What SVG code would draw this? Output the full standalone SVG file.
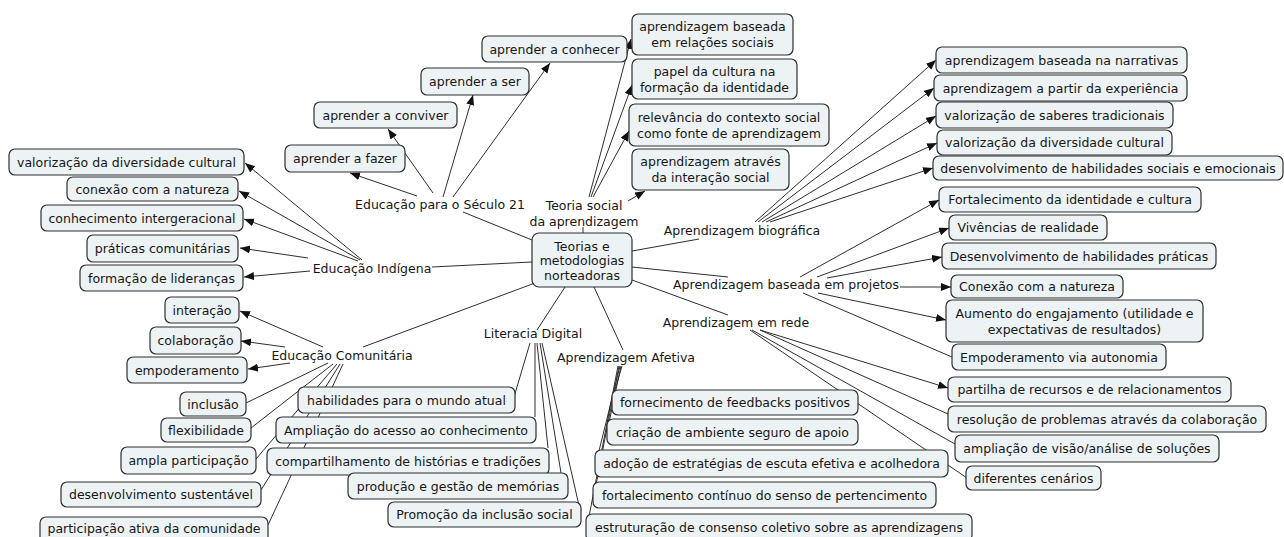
<svg xmlns="http://www.w3.org/2000/svg" width="1284" height="537" viewBox="0 0 1284 537">
<defs>
<style>
.bx{fill:#edf2f5;stroke:#2e2e2e;stroke-width:1.2}
text{font-family:"DejaVu Sans",Verdana,sans-serif;font-size:12.5px;fill:#161616;text-anchor:middle}
.cn line{stroke:#2e2e2e;stroke-width:1;fill:none}
.ar{marker-end:url(#ah)}
</style>
<marker id="ah" markerUnits="userSpaceOnUse" markerWidth="11" markerHeight="9" refX="10" refY="4" orient="auto">
<path d="M0,0 L10,4 L0,8 Z" fill="#111"/>
</marker>
</defs>
<rect width="1284" height="537" fill="#ffffff"/>
<g id="connectors" class="cn">
<line x1="532" y1="240" x2="463" y2="212"/>
<line x1="583" y1="233" x2="583" y2="227"/>
<line x1="532" y1="262" x2="432" y2="267"/>
<line x1="632" y1="251" x2="699" y2="239"/>
<line x1="632" y1="267" x2="728" y2="277"/>
<line x1="632" y1="280" x2="728" y2="315"/>
<line x1="535" y1="283" x2="363" y2="347"/>
<line x1="565" y1="287" x2="537" y2="330"/>
<line x1="594" y1="287" x2="623" y2="350"/>
<line class="ar" x1="417" y1="196" x2="350" y2="173"/>
<line class="ar" x1="433" y1="193" x2="388" y2="129"/>
<line class="ar" x1="443" y1="197" x2="473" y2="95"/>
<line class="ar" x1="453" y1="197" x2="550" y2="63"/>
<line class="ar" x1="589" y1="197" x2="631" y2="39"/>
<line class="ar" x1="591" y1="197" x2="632" y2="85"/>
<line class="ar" x1="593" y1="197" x2="629" y2="131"/>
<line class="ar" x1="628" y1="201" x2="645" y2="191"/>
<line class="ar" x1="362" y1="260" x2="245" y2="163"/>
<line class="ar" x1="360" y1="260" x2="239" y2="191"/>
<line class="ar" x1="358" y1="261" x2="244" y2="219"/>
<line class="ar" x1="308" y1="258" x2="240" y2="248"/>
<line class="ar" x1="310" y1="271" x2="244" y2="277"/>
<line class="ar" x1="755" y1="222" x2="936" y2="60"/>
<line class="ar" x1="758" y1="222" x2="934" y2="88"/>
<line class="ar" x1="762" y1="222" x2="936" y2="116"/>
<line class="ar" x1="766" y1="222" x2="937" y2="143"/>
<line class="ar" x1="770" y1="222" x2="933" y2="168"/>
<line class="ar" x1="800" y1="277" x2="939" y2="200"/>
<line class="ar" x1="817" y1="277" x2="949" y2="228"/>
<line class="ar" x1="827" y1="278" x2="942" y2="257"/>
<line class="ar" x1="900" y1="287" x2="951" y2="287"/>
<line class="ar" x1="818" y1="293" x2="946" y2="320"/>
<line x1="803" y1="293" x2="952" y2="357"/>
<line class="ar" x1="760" y1="330" x2="948" y2="388"/>
<line x1="760" y1="330" x2="948" y2="414"/>
<line x1="752" y1="330" x2="955" y2="444"/>
<line x1="750" y1="330" x2="967" y2="478"/>
<line class="ar" x1="323" y1="347" x2="240" y2="311"/>
<line class="ar" x1="285" y1="347" x2="241" y2="341"/>
<line class="ar" x1="290" y1="363" x2="248" y2="369"/>
<line x1="328" y1="363" x2="246" y2="403"/>
<line x1="333" y1="364" x2="251" y2="428"/>
<line x1="337" y1="364" x2="256" y2="459"/>
<line x1="340" y1="364" x2="261" y2="490"/>
<line x1="343" y1="364" x2="268" y2="525"/>
<line x1="530" y1="343" x2="514" y2="397"/>
<line x1="535" y1="343" x2="535" y2="417"/>
<line x1="537" y1="343" x2="548" y2="448"/>
<line x1="540" y1="343" x2="561" y2="473"/>
<line x1="542" y1="343" x2="580" y2="510"/>
<line x1="622" y1="366" x2="612" y2="400"/>
<line x1="621" y1="366" x2="607" y2="432"/>
<line x1="620" y1="366" x2="596" y2="463"/>
<line x1="619" y1="366" x2="594" y2="495"/>
<line x1="618" y1="366" x2="587" y2="527"/>
</g>
<g id="central"><rect class="bx" x="532" y="233" width="100" height="54" rx="7"/><text x="582" y="250.5">Teorias e</text><text x="582" y="265">metodologias</text><text x="582" y="279.5">norteadoras</text></g>
<g id="l-seculo21"><text x="440" y="208.5">Educação para o Século 21</text></g>
<g id="l-teoria"><text x="584" y="209.5">Teoria social</text><text x="584" y="225.5">da aprendizagem</text></g>
<g id="l-indigena"><text x="372" y="272.5">Educação Indígena</text></g>
<g id="l-biografica"><text x="742" y="234.5">Aprendizagem biográfica</text></g>
<g id="l-projetos"><text x="786" y="288.5">Aprendizagem baseada em projetos</text></g>
<g id="l-rede"><text x="736" y="326.5">Aprendizagem em rede</text></g>
<g id="l-literacia"><text x="533" y="337.5">Literacia Digital</text></g>
<g id="l-afetiva"><text x="626" y="361.5">Aprendizagem Afetiva</text></g>
<g id="l-comunitaria"><text x="342" y="359.5">Educação Comunitária</text></g>
<g id="n1"><rect class="bx" x="9" y="149" width="235" height="26" rx="6"/><text x="126.5" y="166.5">valorização da diversidade cultural</text></g>
<g id="n2"><rect class="bx" x="67" y="177" width="171" height="24" rx="6"/><text x="152.5" y="193.5">conexão com a natureza</text></g>
<g id="n3"><rect class="bx" x="41" y="205" width="202" height="26" rx="6"/><text x="142" y="222.5">conhecimento intergeracional</text></g>
<g id="n4"><rect class="bx" x="87" y="235" width="151" height="27" rx="6"/><text x="162.5" y="253">práticas comunitárias</text></g>
<g id="n5"><rect class="bx" x="80" y="265" width="163" height="26" rx="6"/><text x="161.5" y="282.5">formação de lideranças</text></g>
<g id="n6"><rect class="bx" x="285" y="145" width="120" height="27" rx="6"/><text x="345" y="163">aprender a fazer</text></g>
<g id="n7"><rect class="bx" x="314" y="102" width="143" height="26" rx="6"/><text x="385.5" y="119.5">aprender a conviver</text></g>
<g id="n8"><rect class="bx" x="421" y="68" width="108" height="27" rx="6"/><text x="475" y="86">aprender a ser</text></g>
<g id="n9"><rect class="bx" x="482" y="36" width="145" height="26" rx="6"/><text x="554.5" y="53.5">aprender a conhecer</text></g>
<g id="n10"><rect class="bx" x="632" y="14" width="161" height="41" rx="6"/><text x="712.5" y="31">aprendizagem baseada</text><text x="712.5" y="47">em relações sociais</text></g>
<g id="n11"><rect class="bx" x="632" y="59" width="165" height="40" rx="6"/><text x="714.5" y="75.5">papel da cultura na</text><text x="714.5" y="91.5">formação da identidade</text></g>
<g id="n12"><rect class="bx" x="629" y="104" width="200" height="42" rx="6"/><text x="729" y="121.5">relevância do contexto social</text><text x="729" y="137.5">como fonte de aprendizagem</text></g>
<g id="n13"><rect class="bx" x="632" y="149" width="157" height="41" rx="6"/><text x="710.5" y="166">aprendizagem através</text><text x="710.5" y="182">da interação social</text></g>
<g id="n14"><rect class="bx" x="936" y="47" width="251" height="26" rx="6"/><text x="1061.5" y="64.5">aprendizagem baseada na narrativas</text></g>
<g id="n15"><rect class="bx" x="934" y="75" width="253" height="26" rx="6"/><text x="1060.5" y="92.5">aprendizagem a partir da experiência</text></g>
<g id="n16"><rect class="bx" x="936" y="102" width="237" height="26" rx="6"/><text x="1054.5" y="119.5">valorização de saberes tradicionais</text></g>
<g id="n17"><rect class="bx" x="937" y="130" width="235" height="25" rx="6"/><text x="1054.5" y="147">valorização da diversidade cultural</text></g>
<g id="n18"><rect class="bx" x="933" y="156" width="350" height="24" rx="6"/><text x="1108" y="172.5">desenvolvimento de habilidades sociais e emocionais</text></g>
<g id="n19"><rect class="bx" x="939" y="187" width="262" height="25" rx="6"/><text x="1070" y="204">Fortalecimento da identidade e cultura</text></g>
<g id="n20"><rect class="bx" x="949" y="215" width="158" height="25" rx="6"/><text x="1028" y="232">Vivências de realidade</text></g>
<g id="n21"><rect class="bx" x="942" y="243" width="274" height="26" rx="6"/><text x="1079" y="260.5">Desenvolvimento de habilidades práticas</text></g>
<g id="n22"><rect class="bx" x="951" y="275" width="172" height="23" rx="6"/><text x="1037" y="291">Conexão com a natureza</text></g>
<g id="n23"><rect class="bx" x="946" y="300" width="257" height="42" rx="6"/><text x="1074.5" y="317.5">Aumento do engajamento (utilidade e</text><text x="1074.5" y="333.5">expectativas de resultados)</text></g>
<g id="n24"><rect class="bx" x="952" y="344" width="214" height="26" rx="6"/><text x="1059" y="361.5">Empoderamento via autonomia</text></g>
<g id="n25"><rect class="bx" x="948" y="377" width="283" height="25" rx="6"/><text x="1089.5" y="394">partilha de recursos e de relacionamentos</text></g>
<g id="n26"><rect class="bx" x="948" y="406" width="318" height="26" rx="6"/><text x="1107" y="423.5">resolução de problemas através da colaboração</text></g>
<g id="n27"><rect class="bx" x="955" y="435" width="264" height="27" rx="6"/><text x="1087" y="453">ampliação de visão/análise de soluções</text></g>
<g id="n28"><rect class="bx" x="966" y="466" width="135" height="24" rx="6"/><text x="1033.5" y="482.5">diferentes cenários</text></g>
<g id="n29"><rect class="bx" x="612" y="390" width="246" height="25" rx="6"/><text x="735" y="407">fornecimento de feedbacks positivos</text></g>
<g id="n30"><rect class="bx" x="607" y="419" width="251" height="26" rx="6"/><text x="732.5" y="436.5">criação de ambiente seguro de apoio</text></g>
<g id="n31"><rect class="bx" x="595" y="450" width="353" height="27" rx="6"/><text x="771.5" y="468">adoção de estratégias de escuta efetiva e acolhedora</text></g>
<g id="n32"><rect class="bx" x="593" y="482" width="343" height="26" rx="6"/><text x="764.5" y="499.5">fortalecimento contínuo do senso de pertencimento</text></g>
<g id="n33"><rect class="bx" x="586" y="514" width="386" height="27" rx="6"/><text x="779" y="531.5">estruturação de consenso coletivo sobre as aprendizagens</text></g>
<g id="n34"><rect class="bx" x="298" y="387" width="217" height="26" rx="6"/><text x="406.5" y="404.5">habilidades para o mundo atual</text></g>
<g id="n35"><rect class="bx" x="276" y="417" width="260" height="26" rx="6"/><text x="406" y="434.5">Ampliação do acesso ao conhecimento</text></g>
<g id="n36"><rect class="bx" x="267" y="448" width="282" height="27" rx="6"/><text x="408" y="466">compartilhamento de histórias e tradições</text></g>
<g id="n37"><rect class="bx" x="348" y="473" width="220" height="26" rx="6"/><text x="458" y="490.5">produção e gestão de memórias</text></g>
<g id="n38"><rect class="bx" x="388" y="502" width="193" height="25" rx="6"/><text x="484.5" y="519">Promoção da inclusão social</text></g>
<g id="n39"><rect class="bx" x="165" y="297" width="74" height="26" rx="6"/><text x="202" y="314.5">interação</text></g>
<g id="n40"><rect class="bx" x="150" y="327" width="91" height="27" rx="6"/><text x="195.5" y="345">colaboração</text></g>
<g id="n41"><rect class="bx" x="127" y="357" width="120" height="26" rx="6"/><text x="187" y="374.5">empoderamento</text></g>
<g id="n42"><rect class="bx" x="180" y="392" width="66" height="24" rx="6"/><text x="213" y="408.5">inclusão</text></g>
<g id="n43"><rect class="bx" x="161" y="418" width="90" height="24" rx="6"/><text x="206" y="434.5">flexibilidade</text></g>
<g id="n44"><rect class="bx" x="121" y="447" width="135" height="27" rx="6"/><text x="188.5" y="465">ampla participação</text></g>
<g id="n45"><rect class="bx" x="61" y="482" width="200" height="25" rx="6"/><text x="161" y="499">desenvolvimento sustentável</text></g>
<g id="n46"><rect class="bx" x="40" y="517" width="228" height="26" rx="6"/><text x="154" y="533">participação ativa da comunidade</text></g>
</svg>
